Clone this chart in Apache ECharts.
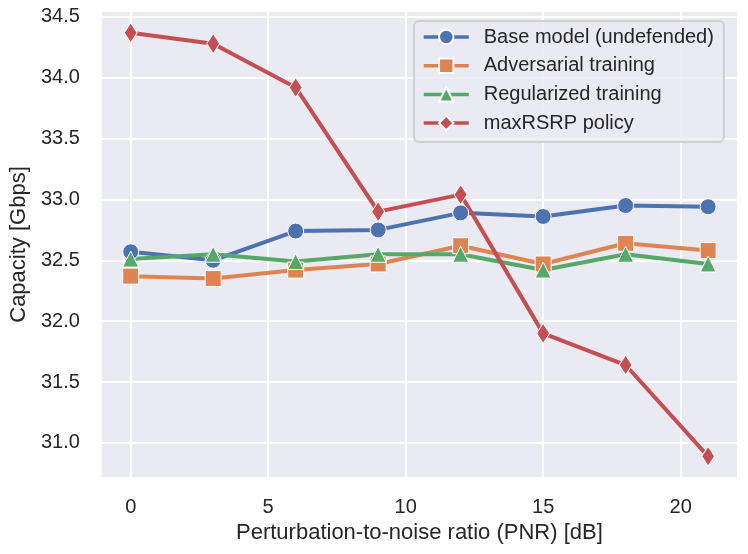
<!DOCTYPE html>
<html>
<head>
<meta charset="utf-8">
<script src="https://cdn.jsdelivr.net/npm/echarts@6/dist/echarts.min.js"></script>
<style>
  html, body { margin: 0; padding: 0; background: #fff; }
  #chart { width: 748px; height: 554px; }
</style>
</head>
<body>
<div id="chart"></div>
<script>
// PNR values in dB (x axis)
var pnr = [0, 3, 6, 9, 12, 15, 18, 21];

// capacity in Gbps
var baseModel = [32.57, 32.50, 32.74, 32.75, 32.89, 32.86, 32.95, 32.94];
var advTraining = [32.37, 32.35, 32.42, 32.47, 32.62, 32.47, 32.64, 32.58];
var regTraining = [32.51, 32.55, 32.49, 32.55, 32.55, 32.42, 32.55, 32.47];
var maxRsrp = [34.37, 34.28, 33.92, 32.90, 33.04, 31.90, 31.64, 30.89];

var seriesNames = ['Base model (undefended)', 'Adversarial training', 'Regularized training', 'maxRSRP policy'];
var seriesColors = ['#4C72B0', '#DD8452', '#55A868', '#C44E52'];

var fontName = 'Liberation Sans, Arial, sans-serif';
var textColor = '#262626';

function pairs(xs, ys) {
  var out = [];
  for (var i = 0; i < xs.length; i++) out.push([xs[i], ys[i]]);
  return out;
}

function lineSeries(name, color, values, symbol, size) {
  return {
    name: name,
    type: 'line',
    data: pairs(pnr, values),
    symbol: symbol,
    symbolSize: size,
    showAllSymbol: true,
    lineStyle: { color: color, width: 4 },
    itemStyle: { color: color, borderColor: '#fff', borderWidth: 1 },
    emphasis: { disabled: true }
  };
}

var myChart = echarts.init(document.getElementById('chart'));
var option = {
  animation: false,
  color: seriesColors,
  textStyle: { fontFamily: fontName, color: textColor },
  grid: {
    left: 99, right: 11, top: 12, bottom: 77,
    show: true,
    backgroundColor: '#EAEAF2',
    borderWidth: 0
  },
  legend: {
    orient: 'vertical',
    left: 414,
    top: 21,
    padding: [6, 10, 9, 8],
    itemWidth: 45,
    itemHeight: 18,
    itemGap: 8.7,
    backgroundColor: 'rgba(234,234,242,0.8)',
    borderColor: '#D0D0D0',
    borderWidth: 2,
    borderRadius: 5,
    lineStyle: { width: 3.5 },
    textStyle: {
      fontFamily: fontName,
      fontSize: 20,
      color: textColor,
      padding: [0, 0, 0, 10]
    },
    data: seriesNames
  },
  xAxis: {
    type: 'value',
    min: -1.05,
    max: 22.05,
    minInterval: 5,
    maxInterval: 5,
    name: 'Perturbation-to-noise ratio (PNR) [dB]',
    nameLocation: 'middle',
    nameGap: 43,
    nameTextStyle: { fontFamily: fontName, fontSize: 22, color: textColor },
    axisLine: { show: false },
    axisTick: { show: false },
    axisLabel: {
      fontFamily: fontName, fontSize: 20, color: textColor, margin: 20,
      showMinLabel: false, showMaxLabel: false
    },
    splitLine: {
      show: true, showMinLine: false, showMaxLine: false,
      lineStyle: { color: '#fff', width: 2 }
    }
  },
  yAxis: {
    type: 'value',
    min: 30.72,
    max: 34.54,
    minInterval: 0.5,
    maxInterval: 0.5,
    name: 'Capacity [Gbps]',
    nameLocation: 'middle',
    nameGap: 65,
    nameTextStyle: { fontFamily: fontName, fontSize: 22, color: textColor },
    axisLine: { show: false },
    axisTick: { show: false },
    axisLabel: {
      fontFamily: fontName, fontSize: 20, color: textColor, margin: 22,
      showMinLabel: false, showMaxLabel: false,
      formatter: function (v) { return v.toFixed(1); }
    },
    splitLine: {
      show: true, showMinLine: false, showMaxLine: false,
      lineStyle: { color: '#fff', width: 2 }
    }
  },
  series: [
    lineSeries(seriesNames[0], seriesColors[0], baseModel, 'circle', 16),
    lineSeries(seriesNames[1], seriesColors[1], advTraining, 'rect', 16),
    lineSeries(seriesNames[2], seriesColors[2], regTraining, 'triangle', 16),
    lineSeries(seriesNames[3], seriesColors[3], maxRsrp, 'diamond', [13, 20])
  ]
};
myChart.setOption(option);
</script>
</body>
</html>
